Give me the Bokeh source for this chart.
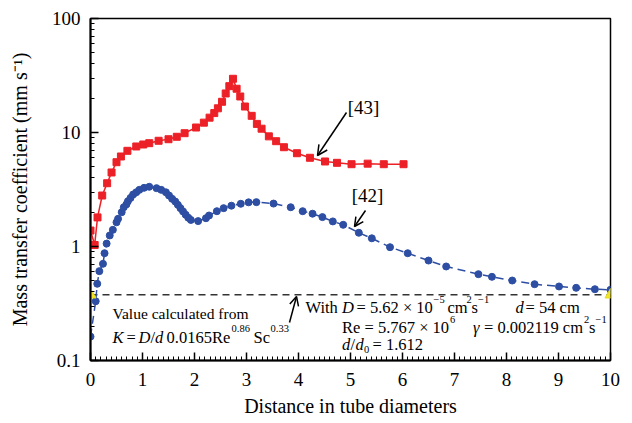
from bokeh.plotting import figure
from bokeh.models import (FixedTicker, Label, Arrow, OpenHead, ColumnDataSource)
from bokeh.embed import file_html
from bokeh.resources import INLINE

# ---------------- data ----------------
red_x = [0.0, 0.08, 0.135, 0.225, 0.32, 0.405, 0.50, 0.585, 0.71, 0.88, 1.015, 1.13,
         1.31, 1.50, 1.66, 1.81, 2.03, 2.18, 2.29, 2.38, 2.45, 2.53, 2.60, 2.67, 2.74,
         2.81, 2.88, 2.97, 3.10, 3.20, 3.29, 3.43, 3.57, 3.72, 3.97, 4.22, 4.51, 4.74,
         5.02, 5.33, 5.64, 6.02]
red_y = [1.38, 1.03, 1.80, 2.80, 3.59, 4.46, 5.49, 6.16, 6.91, 7.54, 7.85, 8.06,
         8.46, 8.73, 9.17, 9.86, 11.06, 12.2, 13.5, 14.8, 16.3, 18.6, 22.0, 25.5, 29.6,
         24.2, 20.7, 16.9, 14.0, 11.9, 10.8, 9.25, 8.39, 7.43, 6.58, 6.0, 5.57, 5.42,
         5.27, 5.33, 5.27, 5.27]

blue_x = [0.0, 0.10, 0.13, 0.17, 0.24, 0.27, 0.31, 0.37, 0.43, 0.50, 0.53, 0.60, 0.64,
          0.69, 0.72, 0.77, 0.82, 0.88, 0.94, 1.03, 1.13, 1.27, 1.36, 1.45, 1.51, 1.57,
          1.63, 1.68, 1.73, 1.78, 1.83, 1.88, 1.93, 2.07, 2.22, 2.28, 2.43, 2.56, 2.71,
          2.89, 3.04, 3.19, 3.52, 3.85, 4.08, 4.27, 4.46, 4.66, 4.86, 5.16, 5.41, 5.76,
          6.10, 6.50, 6.84, 7.46, 7.72, 8.11, 8.54, 9.01, 9.34, 9.70, 10.0]
blue_y = [0.162, 0.331, 0.471, 0.608, 0.705, 0.873, 1.06, 1.25, 1.40, 1.63, 1.75, 2.00,
          2.21, 2.34, 2.50, 2.67, 2.86, 2.99, 3.14, 3.27, 3.34, 3.25, 3.14, 2.99, 2.80,
          2.62, 2.48, 2.32, 2.17, 2.03, 1.90, 1.79, 1.71, 1.67, 1.77, 1.87, 2.04, 2.17,
          2.28, 2.37, 2.44, 2.45, 2.38, 2.21, 2.04, 1.94, 1.81, 1.66, 1.55, 1.32, 1.18,
          0.986, 0.873, 0.753, 0.668, 0.572, 0.542, 0.503, 0.467, 0.446, 0.434, 0.422,
          0.417]

calc_x = [0.0, 10.0]
calc_k = 0.377

x_ticks = [0, 1, 2, 3, 4, 5, 6, 7, 8, 9, 10]
y_ticks = [0.1, 1, 10, 100]
y_tick_labels = ["0.1", "1", "10", "100"]

FONT = "Liberation Serif"
RED = "#ec2027"
BLUE = "#2d4ea2"

# ---------------- figure ----------------
p = figure(width=632, height=423, x_range=(0, 10), y_range=(0.1, 100),
           y_axis_type="log", output_backend="svg", toolbar_location=None,
           min_border_left=90, min_border_right=22, min_border_top=18,
           min_border_bottom=63)
p.background_fill_color = "white"
p.border_fill_color = "white"
p.xgrid.visible = False
p.ygrid.visible = False
p.outline_line_color = "black"
p.outline_line_width = 1.5

minor_x = [i / 10 for i in range(0, 101) if i % 10 != 0]
p.xaxis.ticker = FixedTicker(ticks=x_ticks, minor_ticks=minor_x)
minor_y = [m * d for d in (0.1, 1, 10) for m in range(2, 10)]
p.yaxis.ticker = FixedTicker(ticks=y_ticks, minor_ticks=minor_y)
p.yaxis.major_label_overrides = {t: s for t, s in zip(y_ticks, y_tick_labels)}

for ax in (p.xaxis, p.yaxis):
    ax.axis_line_width = 2
    ax.axis_line_color = "black"
    ax.major_tick_in = 8
    ax.major_tick_out = 0
    ax.minor_tick_in = 4
    ax.minor_tick_out = 0
    ax.major_tick_line_color = "black"
    ax.minor_tick_line_color = "black"
    ax.major_tick_line_width = 1.5
    ax.major_label_text_font = FONT
    ax.major_label_text_font_size = "19px"
    ax.major_label_text_color = "black"
    ax.axis_label_text_font = FONT
    ax.axis_label_text_font_size = "20px"
    ax.axis_label_text_font_style = "normal"
    ax.axis_label_text_color = "black"

p.xaxis.axis_label = "Distance in tube diameters"
p.yaxis.axis_label = "Mass transfer coefficient (mm s\u207b\u00b9)"
p.xaxis.major_label_standoff = 12
p.xaxis.axis_label_standoff = 6
p.yaxis.major_label_standoff = 10
p.yaxis.axis_label_standoff = 18

# ---------------- series ----------------
rs = ColumnDataSource(dict(x=red_x, y=red_y))
bs = ColumnDataSource(dict(x=blue_x, y=blue_y))

p.line(calc_x, [calc_k, calc_k], line_color="#333333", line_width=1.6, line_dash="7 5")

p.line("x", "y", source=bs, line_color=BLUE, line_width=1.5, line_dash="8 5")
p.scatter("x", "y", source=bs, marker="circle", size=7, fill_color=BLUE, line_color=BLUE)

p.line("x", "y", source=rs, line_color=RED, line_width=1.5)
p.scatter("x", "y", source=rs, marker="square", size=7, fill_color=RED, line_color=RED)

p.scatter(calc_x, [calc_k, calc_k], marker="triangle", size=11,
          fill_color="#f3e526", line_color="#e6d820")

# ---------------- annotations ----------------
def X(px):
    return (px - 90) / 52.0


def Y(py):
    return 10 ** (2 - (py - 18) / 114.0)


MAIN = 16.5
SUP = 10.5


def put(txt, px, py, size=MAIN, style="normal"):
    p.add_layout(Label(x=X(px), y=Y(py), text=txt, text_font=FONT,
                       text_font_size=f"{size}px", text_font_style=style,
                       text_baseline="middle", text_align="left", text_color="black"))


def sup(txt, px, py, lift=8):
    put(txt, px, py - lift, size=SUP)


# reference labels
p.add_layout(Label(x=X(363), y=Y(107), text="[43]", text_font=FONT, text_font_size="19px",
                   text_align="center", text_baseline="middle", text_color="black"))
p.add_layout(Label(x=X(367), y=Y(195), text="[42]", text_font=FONT, text_font_size="19px",
                   text_align="center", text_baseline="middle", text_color="black"))

p.add_layout(Arrow(x_start=X(346), y_start=Y(112), x_end=X(317), y_end=Y(155),
                   line_color="black", line_width=1.5,
                   end=OpenHead(size=10, line_width=1.5, line_color="black")))
p.add_layout(Arrow(x_start=X(365), y_start=Y(210), x_end=X(354), y_end=Y(226),
                   line_color="black", line_width=1.5,
                   end=OpenHead(size=9, line_width=1.5, line_color="black")))
p.add_layout(Arrow(x_start=X(289), y_start=Y(322), x_end=X(296), y_end=Y(296),
                   line_color="black", line_width=1.5,
                   end=OpenHead(size=9, line_width=1.5, line_color="black")))

# left text block
put("Value calculated from", 112, 313, size=15.5)
fy = 337
put("K", 112, fy, style="italic")
put("=", 126, fy)
put("D", 138, fy, style="italic")
put("/", 150, fy)
put("d", 154.5, fy, style="italic")
put("0.0165Re", 166, fy)
sup("0.86", 231, fy, lift=9)
put("Sc", 253, fy)
sup("0.33", 270, fy, lift=9)

# right text block
l1 = 307
put("With", 305, l1)
put("D", 341.5, l1, style="italic")
put("= 5.62 \u00d7 10", 356, l1)
sup("\u22125", 433, l1)
put("cm", 447, l1)
sup("2", 466, l1)
put("s", 471, l1)
sup("\u22121", 477.5, l1)
put("d", 515, l1, style="italic")
put("= 54 cm", 525, l1)

l2 = 327
put("Re = 5.767 \u00d7 10", 341.5, l2)
sup("6", 449.5, l2)
put("\u03b3", 472.5, l2, style="italic")
put("= 0.002119 cm", 483.5, l2)
sup("2", 583.5, l2)
put("s", 588.5, l2)
sup("\u22121", 595, l2)

l3 = 344
put("d", 341.5, l3, style="italic")
put("/", 350, l3)
put("d", 355, l3, style="italic")
put("0", 363.5, l3 + 5, size=SUP)
put("= 1.612", 372, l3)

open("out.html", "w").write(file_html(p, INLINE))
